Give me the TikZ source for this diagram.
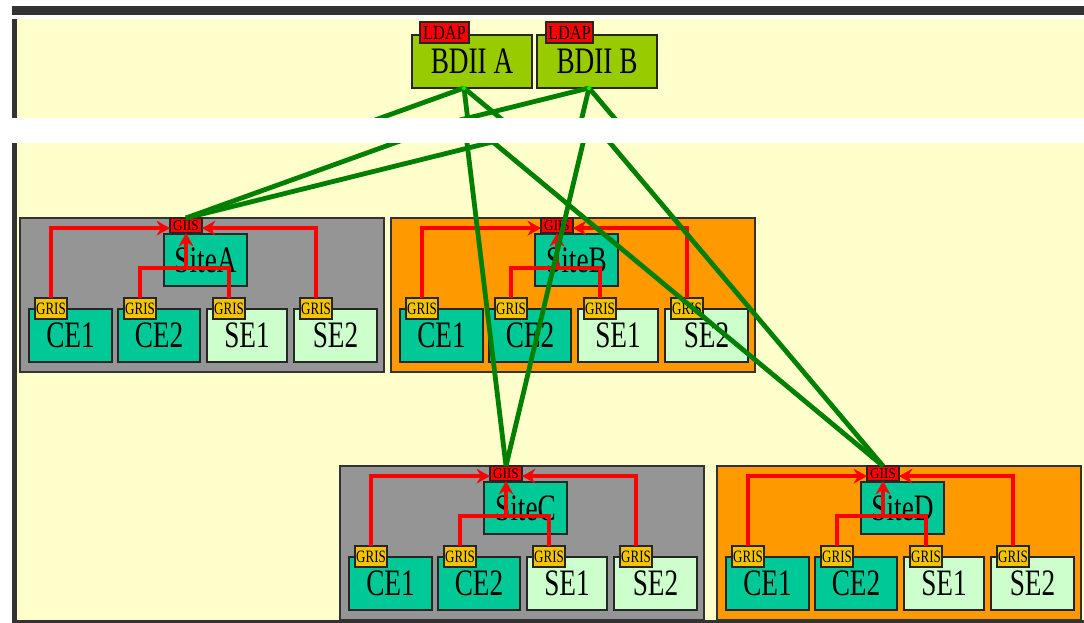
\documentclass[tikz,border=0pt]{standalone}
\usepackage{fontspec}
\setmainfont{Liberation Serif}
\usepackage{graphicx}
\usetikzlibrary{arrows.meta,calc}
\definecolor{bgyel}{HTML}{FFFFCC}
\definecolor{dark}{HTML}{333333}
\definecolor{sitegray}{HTML}{959595}
\definecolor{siteorange}{HTML}{FF9900}
\definecolor{tealc}{HTML}{00C896}
\definecolor{segreen}{HTML}{CCFFCC}
\definecolor{grisc}{HTML}{F5C400}
\definecolor{bdiic}{HTML}{99CC00}
\definecolor{linkgreen}{HTML}{008000}
\tikzset{
  base/.style={draw=black!85, line width=0.9pt, inner sep=0pt, outer sep=0pt},
  sitebg/.style={base, draw=dark, line width=1.5pt},
  cebox/.style={base, fill=tealc},
  sebox/.style={base, fill=segreen},
  sitebox/.style={base, fill=tealc},
  giistag/.style={base, fill=red},
  gristag/.style={base, fill=grisc},
  ldaptag/.style={base, fill=red},
  bdiibox/.style={base, fill=bdiic},
  redlink/.style={red, line width=2.6pt, -{Stealth[length=10pt,width=11pt]}},
  redplain/.style={red, line width=2.6pt},
  greenlink/.style={linkgreen, line width=3.6pt},
}
\newcommand{\lbl}[3]{\scalebox{#1}[1]{\fontsize{#2}{#2}\selectfont #3}}
\newcommand{\bx}[7]{\node[#6, minimum width={(#4-#2)*0.75pt}, minimum height={(#5-#3)*0.75pt}] (#1) at ({(#2+#4)/2},{(#3+#5)/2}) {#7};}
\newcommand{\biglbl}[1]{\lbl{0.73}{28pt}{#1}}
\newcommand{\mksite}[5]{%
  \begin{scope}[shift={(#2,#3)}]
    \bx{#1-bg}{0}{0}{364}{154}{sitebg, fill=#4}{}
    \bx{#1-box}{144}{16}{227}{68}{sitebox}{\biglbl{#5}}
    \bx{#1-giis}{150}{0}{182}{15}{giistag}{\lbl{0.9}{11pt}{GIIS}}
    \bx{#1-ce1}{9}{91}{92}{144}{cebox}{\biglbl{CE1}}
    \bx{#1-ce2}{98}{91}{180}{144}{cebox}{\biglbl{CE2}}
    \bx{#1-se1}{187}{91}{267}{144}{sebox}{\biglbl{SE1}}
    \bx{#1-se2}{274}{91}{357}{144}{sebox}{\biglbl{SE2}}
    \bx{#1-g1}{15}{80}{47}{101}{gristag}{\lbl{0.75}{13pt}{GRIS}}
    \bx{#1-g2}{104}{80}{136}{101}{gristag}{\lbl{0.75}{13pt}{GRIS}}
    \bx{#1-g3}{193}{80}{225}{101}{gristag}{\lbl{0.75}{13pt}{GRIS}}
    \bx{#1-g4}{280}{80}{312}{101}{gristag}{\lbl{0.75}{13pt}{GRIS}}
    \coordinate (#1-j) at (166,50);
    \draw[redlink] (#1-g1.north) |- ([yshift=-2pt]#1-giis.west);
    \draw[redlink] (#1-g4.north) |- ([yshift=-2pt]#1-giis.east);
    \draw[redplain] (#1-g2.north) |- (#1-j) -| (#1-g3.north);
    \draw[redlink] (#1-j) -- (#1-giis.south);
  \end{scope}}
\begin{document}
\begin{tikzpicture}[x=0.75pt, y=-0.75pt]
  \useasboundingbox (0,0) rectangle (1084,623);
  \fill[white] (0,0) rectangle (1084,623);
  \fill[bgyel] (17,19) rectangle (1084,620);
  \fill[dark] (12,6) rectangle (1084,15);
  \fill[dark] (12,19) rectangle (17,623);
  \fill[dark] (12,620) rectangle (1084,623);

  \mksite{A}{20}{218}{sitegray}{SiteA}
  \mksite{B}{391}{218}{siteorange}{SiteB}
  \mksite{C}{340}{466}{sitegray}{SiteC}
  \mksite{D}{717}{466}{siteorange}{SiteD}

  \bx{bdiiA}{412}{35}{532}{88}{bdiibox}{\biglbl{BDII A}}
  \bx{bdiiB}{537}{35}{657}{88}{bdiibox}{\biglbl{BDII B}}
  \bx{ldapA}{420}{22}{469}{43}{ldaptag}{\lbl{0.82}{15pt}{LDAP}}
  \bx{ldapB}{546}{22}{593}{43}{ldaptag}{\lbl{0.82}{15pt}{LDAP}}

  \coordinate (aout) at ([xshift=-6pt]bdiiA.south);
  \coordinate (bout) at ([xshift=-6pt]bdiiB.south);
  % upper part of the links
  \begin{scope}
    \clip (0,0) rectangle (1084,130);
    \foreach \s in {A,C,D} {
      \draw[greenlink] (aout) -- ([yshift=22.5pt]\s-giis.north);
      \draw[greenlink] (bout) -- ([yshift=22.5pt]\s-giis.north);
    }
  \end{scope}
  % lower part of the links
  \begin{scope}
    \clip (0,130) rectangle (1084,623);
    \foreach \s in {A,C,D} {
      \draw[greenlink] ([yshift=-22.5pt]aout) -- (\s-giis.north);
      \draw[greenlink] ([yshift=-22.5pt]bout) -- (\s-giis.north);
    }
  \end{scope}
  \fill[green] (aout) circle (1.5pt);
  \fill[green] (bout) circle (1.5pt);

  \fill[white] (0,118) rectangle (1084,143);
\end{tikzpicture}
\end{document}
